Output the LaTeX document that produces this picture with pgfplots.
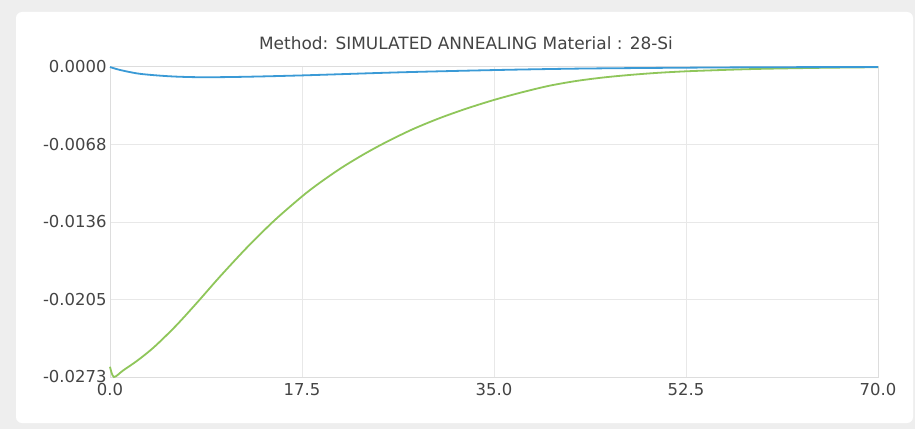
\documentclass[border=0pt]{standalone}
\usepackage{fontspec}
\setmainfont{DejaVu Sans}
\usepackage{pgfplots}
\pgfplotsset{compat=1.18}
\definecolor{bgc}{HTML}{EEEEEE}
\definecolor{bluec}{HTML}{3A9AD6}
\definecolor{greenc}{HTML}{8FC65A}
\definecolor{gridc}{HTML}{E8E8E8}
\definecolor{axc}{HTML}{DDDDDD}
\definecolor{txt}{HTML}{444444}
\begin{document}
\begin{tikzpicture}[x=1bp,y=1bp]
\fill[bgc] (0,0) rectangle (915,429);
\fill[white,rounded corners=6bp] (16,6) rectangle (913,417);
\node[txt,font=\fontsize{17}{17}\selectfont] at (466,386) {Method: SIMULATED ANNEALING Material : 28-Si};
\begin{axis}[at={(110bp,52bp)},anchor=south west,
  scale only axis, width=768bp, height=310bp,
  xmin=0,xmax=70,ymin=-0.0273,ymax=0,
  xtick={0,17.5,35,52.5,70},
  xticklabels={0.0,17.5,35.0,52.5,70.0},
  ytick={-0.0273,-0.020475,-0.01365,-0.006825,0},
  yticklabels={-0.0273,-0.0205,-0.0136,-0.0068,0.0000},
  scaled y ticks=false,
  grid=major, grid style={gridc,line width=1bp},
  axis line style={axc,line width=1bp},
  major tick length=0pt,
  tick label style={txt,font=\fontsize{16.5}{16.5}\selectfont},
  xticklabel style={yshift=-3bp},
  /pgf/number format/assume math mode=true,
  clip=false,
]
\addplot[greenc,line width=1.8bp,smooth] coordinates {
(0,-0.02640) (0.35,-0.0273) (1.2,-0.02672) (2.5,-0.02585) (4,-0.02468)
(6,-0.02280) (8,-0.02068) (10,-0.01848) (12.5,-0.01588) (15,-0.01350) (17.5,-0.01140)
(19,-0.01028) (21,-0.00894) (23,-0.00776) (25,-0.00670) (27.5,-0.00552) (30,-0.00452)
(32.5,-0.00366) (35,-0.00290) (37.5,-0.00224) (40,-0.00166) (42.5,-0.00123) (45,-0.00092)
(47.5,-0.00069) (50,-0.00051) (52.5,-0.00038) (55,-0.00029) (57.5,-0.00021) (60,-0.00015)
(65,-0.00007) (70,-0.00002)
};
\addplot[bluec,line width=1.8bp,smooth] coordinates {
(0,0) (0.91,-0.00026) (2.73,-0.00060) (5.47,-0.00082) (8.2,-0.00090) (11.85,-0.00087)
(17.5,-0.00074) (26.4,-0.00047) (35,-0.00027) (42.8,-0.00014) (52.5,-0.00006) (60,-0.00002) (70,0)
};
\end{axis}
\end{tikzpicture}
\end{document}
